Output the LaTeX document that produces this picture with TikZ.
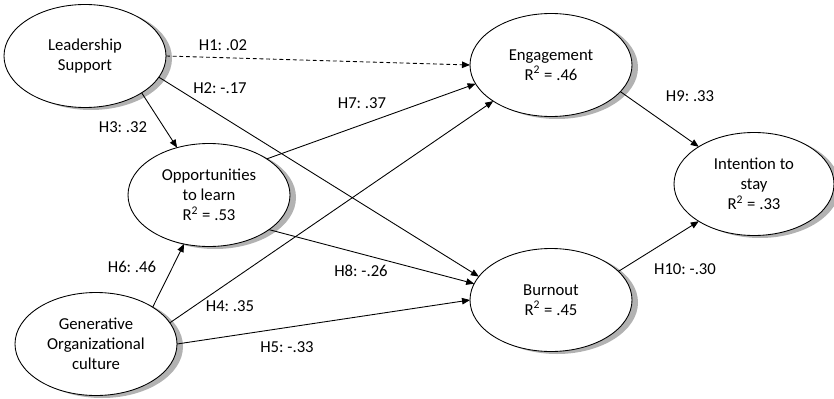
\documentclass[tikz,border=0pt]{standalone}
\usepackage{fontspec}
\setmainfont{Carlito}
\usetikzlibrary{positioning, calc, shapes, shadows, arrows.meta}

\begin{document}
\frenchspacing
\begin{tikzpicture}[x=0.2mm, y=-0.2mm, font=\fontsize{9.5}{11.5}\selectfont]
\tikzset{construct/.style={
    ellipse, draw=black, line width=0.5pt, fill=white, minimum width=32.4mm, minimum height=20.6mm,
    inner sep=0pt, outer sep=0pt, align=center,
    drop shadow={shadow xshift=1.2mm, shadow yshift=-0.5mm, fill=gray!60, opacity=1}},
    hyp/.style={
    line width=0.5pt, -{Triangle[length=1.6mm, width=1.3mm]}},
    coef/.style={inner sep=1pt}
}

    \useasboundingbox (0,0) rectangle (834,399);

    \coordinate (lead_c) at (85,56);
    \coordinate (opp_c) at (209,195);
    \coordinate (gen_c) at (96,344);
    \coordinate (eng_c) at (551,65);
    \coordinate (burn_c) at (551,300);
    \coordinate (stay_c) at (754,184);

    % constructs
    \path (lead_c) node[construct] (lead) {Leadership\\Support};
    \path (opp_c) node[construct] (opp) {Opportunities\\to learn\\R\textsuperscript{2} = .53};
    \path (gen_c) node[construct] (gen) {Generative\\Organizational\\culture};
    \path (eng_c) node[construct] (eng) {Engagement\\R\textsuperscript{2} = .46};
    \path (burn_c) node[construct] (burn) {Burnout\\R\textsuperscript{2} = .45};
    \path (stay_c) node[construct, minimum width=32mm] (stay) {Intention to\\stay\\R\textsuperscript{2} = .33};

    % paths
    \draw[hyp, dash pattern=on 2.2pt off 1.6pt] (lead.0) -- (eng.180);
    \draw[hyp] (lead.-16) -- (burn.162);
    \draw[hyp] (lead.-33) -- (opp.124);
    \draw[hyp] (opp.32) -- (eng.194);
    \draw[hyp] (gen.16) -- (eng.212);
    \draw[hyp] (gen.33) -- (opp.243);
    \draw[hyp] (opp.-30) -- (burn.168);
    \draw[hyp] (gen.0) -- (burn.180);
    \draw[hyp] (eng.-21) -- (stay.146);
    \draw[hyp] (burn.23) -- (stay.214);

    % coefficients
    \path (223,45) node[coef] (h1) {H1: .02};
    \path (220,88) node[coef] (h2) {H2: -.17};
    \path (123,127) node[coef] (h3) {H3: .32};
    \path (230,306) node[coef] (h4) {H4: .35};
    \path (287,347) node[coef] (h5) {H5: -.33};
    \path (132,267) node[coef] (h6) {H6: .46};
    \path (362,103) node[coef] (h7) {H7: .37};
    \path (361,271) node[coef] (h8) {H8: -.26};
    \path (690,96) node[coef] (h9) {H9: .33};
    \path (685,269) node[coef] (h10) {H10: -.30};

\end{tikzpicture}
\end{document}
